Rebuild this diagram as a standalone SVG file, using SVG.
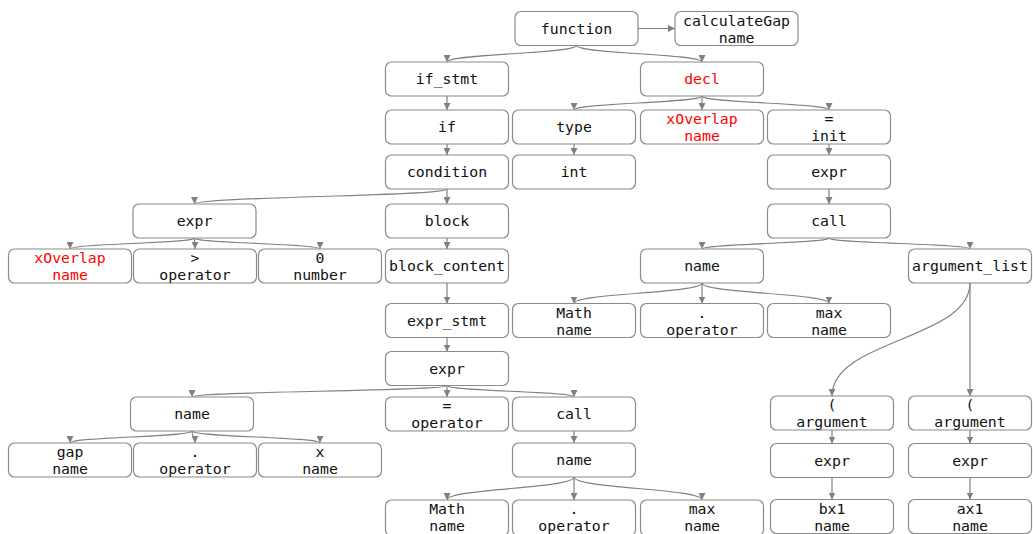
<svg xmlns="http://www.w3.org/2000/svg" width="1033" height="534" viewBox="0 0 1033 534">
  <defs>
    <marker id="arrow" viewBox="0 0 10 10" refX="10" refY="5" markerWidth="7" markerHeight="7" markerUnits="userSpaceOnUse" orient="auto">
      <path d="M0,0 L10,5 L0,10 z" fill="#808080"/>
    </marker>
    <style>
      .node rect { fill: #ffffff; stroke: #8a8a8a; stroke-width: 1.2; }
      .node text { font-family: "DejaVu Sans Mono", "Liberation Mono", monospace; font-size: 14.8px; fill: #111111; text-anchor: middle; }
      .node text.hl { fill: #ff0000; }
      .edges path { fill: none; stroke: #808080; stroke-width: 1.2; marker-end: url(#arrow); }
    </style>
  </defs>

  <rect x="0" y="0" width="1033" height="534" fill="#ffffff"/>

  <!-- connectors: parent bottom centre to child top centre -->
  <g id="edges" class="edges">
    <path d="M638,28.5 L675,28.5"/>
    <path d="M576.5,45.5 C576.5,53.75 447,53.75 447,62"/>
    <path d="M576.5,45.5 C576.5,53.75 702,53.75 702,62"/>
    <path d="M447,96 L447,110"/>
    <path d="M447,144 L447,155"/>
    <path d="M447,189 C447,196.5 194.5,196.5 194.5,204"/>
    <path d="M447,189 L447,204"/>
    <path d="M194.5,238 C194.5,243.5 70,243.5 70,249"/>
    <path d="M194.5,238 C194.5,243.5 195,243.5 195,249"/>
    <path d="M194.5,238 C194.5,243.5 320,243.5 320,249"/>
    <path d="M447,238 L447,249"/>
    <path d="M447,283 L447,303.5"/>
    <path d="M447,337.5 L447,351.5"/>
    <path d="M447,385.5 C447,391.25 192,391.25 192,397"/>
    <path d="M447,385.5 L447,397"/>
    <path d="M447,385.5 C447,391.25 574,391.25 574,397"/>
    <path d="M192,431 C192,437 70,437 70,443"/>
    <path d="M192,431 C192,437 195,437 195,443"/>
    <path d="M192,431 C192,437 320,437 320,443"/>
    <path d="M574,431 L574,443"/>
    <path d="M574,477 C574,488.5 447,488.5 447,500"/>
    <path d="M574,477 L574,500"/>
    <path d="M574,477 C574,488.5 702,488.5 702,500"/>
    <path d="M702,96 C702,103 574,103 574,110"/>
    <path d="M702,96 L702,110"/>
    <path d="M702,96 C702,103 829,103 829,110"/>
    <path d="M574,144 L574,155"/>
    <path d="M829,144 L829,155"/>
    <path d="M829,189 L829,204"/>
    <path d="M829,238 C829,243.5 702,243.5 702,249"/>
    <path d="M829,238 C829,243.5 970,243.5 970,249"/>
    <path d="M702,283 C702,293.25 574,293.25 574,303.5"/>
    <path d="M702,283 L702,303.5"/>
    <path d="M702,283 C702,293.25 829,293.25 829,303.5"/>
    <path d="M970,283 C970,339.5 832,339.5 832,396"/>
    <path d="M970,283 L970,396"/>
    <path d="M832,430 L832,443.5"/>
    <path d="M970,430 L970,443.5"/>
    <path d="M832,477.5 L832,499.5"/>
    <path d="M970,477.5 L970,499.5"/>
  </g>

  <!-- nodes -->
  <g id="n-function" class="node"><rect x="515" y="11.5" width="123" height="34" rx="6"/><text x="576.5" y="33.5">function</text></g>
  <g id="n-calculateGap" class="node"><rect x="675" y="11.5" width="123" height="34" rx="6"/><text x="736.5" y="25.5">calculateGap</text><text x="736.5" y="42.5">name</text></g>

  <g id="n-if-stmt" class="node"><rect x="385.5" y="62" width="123" height="34" rx="6"/><text x="447" y="84">if_stmt</text></g>
  <g id="n-decl" class="node"><rect x="640.5" y="62" width="123" height="34" rx="6"/><text class="hl" x="702" y="84">decl</text></g>

  <g id="n-if" class="node"><rect x="385.5" y="110" width="123" height="34" rx="6"/><text x="447" y="132">if</text></g>
  <g id="n-type" class="node"><rect x="512.5" y="110" width="123" height="34" rx="6"/><text x="574" y="132">type</text></g>
  <g id="n-decl-name" class="node"><rect x="640.5" y="110" width="123" height="34" rx="6"/><text class="hl" x="702" y="124">xOverlap</text><text class="hl" x="702" y="141">name</text></g>
  <g id="n-init" class="node"><rect x="767.5" y="110" width="123" height="34" rx="6"/><text x="829" y="124">=</text><text x="829" y="141">init</text></g>

  <g id="n-condition" class="node"><rect x="385.5" y="155" width="123" height="34" rx="6"/><text x="447" y="177">condition</text></g>
  <g id="n-int" class="node"><rect x="512.5" y="155" width="123" height="34" rx="6"/><text x="574" y="177">int</text></g>
  <g id="n-init-expr" class="node"><rect x="767.5" y="155" width="123" height="34" rx="6"/><text x="829" y="177">expr</text></g>

  <g id="n-cond-expr" class="node"><rect x="133" y="204" width="123" height="34" rx="6"/><text x="194.5" y="226">expr</text></g>
  <g id="n-block" class="node"><rect x="385.5" y="204" width="123" height="34" rx="6"/><text x="447" y="226">block</text></g>
  <g id="n-init-call" class="node"><rect x="767.5" y="204" width="123" height="34" rx="6"/><text x="829" y="226">call</text></g>

  <g id="n-cond-name" class="node"><rect x="8.5" y="249" width="123" height="34" rx="6"/><text class="hl" x="70" y="263">xOverlap</text><text class="hl" x="70" y="280">name</text></g>
  <g id="n-cond-op" class="node"><rect x="133.5" y="249" width="123" height="34" rx="6"/><text x="195" y="263">&gt;</text><text x="195" y="280">operator</text></g>
  <g id="n-cond-num" class="node"><rect x="258.5" y="249" width="123" height="34" rx="6"/><text x="320" y="263">0</text><text x="320" y="280">number</text></g>
  <g id="n-block-content" class="node"><rect x="385.5" y="249" width="123" height="34" rx="6"/><text x="447" y="271">block_content</text></g>
  <g id="n-init-callee" class="node"><rect x="640.5" y="249" width="123" height="34" rx="6"/><text x="702" y="271">name</text></g>
  <g id="n-argument-list" class="node"><rect x="908.5" y="249" width="123" height="34" rx="6"/><text x="970" y="271">argument_list</text></g>

  <g id="n-expr-stmt" class="node"><rect x="385.5" y="303.5" width="123" height="34" rx="6"/><text x="447" y="325.5">expr_stmt</text></g>
  <g id="n-init-math" class="node"><rect x="512.5" y="303.5" width="123" height="34" rx="6"/><text x="574" y="317.5">Math</text><text x="574" y="334.5">name</text></g>
  <g id="n-init-dot" class="node"><rect x="640.5" y="303.5" width="123" height="34" rx="6"/><text x="702" y="317.5">.</text><text x="702" y="334.5">operator</text></g>
  <g id="n-init-max" class="node"><rect x="767.5" y="303.5" width="123" height="34" rx="6"/><text x="829" y="317.5">max</text><text x="829" y="334.5">name</text></g>

  <g id="n-stmt-expr" class="node"><rect x="385.5" y="351.5" width="123" height="34" rx="6"/><text x="447" y="373.5">expr</text></g>

  <g id="n-gap-name" class="node"><rect x="130.5" y="397" width="123" height="34" rx="6"/><text x="192" y="419">name</text></g>
  <g id="n-assign" class="node"><rect x="385.5" y="397" width="123" height="34" rx="6"/><text x="447" y="411">=</text><text x="447" y="428">operator</text></g>
  <g id="n-stmt-call" class="node"><rect x="512.5" y="397" width="123" height="34" rx="6"/><text x="574" y="419">call</text></g>
  <g id="n-arg-1" class="node"><rect x="770.5" y="396" width="123" height="34" rx="6"/><text x="832" y="410">(</text><text x="832" y="427">argument</text></g>
  <g id="n-arg-2" class="node"><rect x="908.5" y="396" width="123" height="34" rx="6"/><text x="970" y="410">(</text><text x="970" y="427">argument</text></g>

  <g id="n-gap" class="node"><rect x="8.5" y="443" width="123" height="34" rx="6"/><text x="70" y="457">gap</text><text x="70" y="474">name</text></g>
  <g id="n-gap-dot" class="node"><rect x="133.5" y="443" width="123" height="34" rx="6"/><text x="195" y="457">.</text><text x="195" y="474">operator</text></g>
  <g id="n-gap-x" class="node"><rect x="258.5" y="443" width="123" height="34" rx="6"/><text x="320" y="457">x</text><text x="320" y="474">name</text></g>
  <g id="n-stmt-callee" class="node"><rect x="512.5" y="443" width="123" height="34" rx="6"/><text x="574" y="465">name</text></g>
  <g id="n-arg-1-expr" class="node"><rect x="770.5" y="443.5" width="123" height="34" rx="6"/><text x="832" y="465.5">expr</text></g>
  <g id="n-arg-2-expr" class="node"><rect x="908.5" y="443.5" width="123" height="34" rx="6"/><text x="970" y="465.5">expr</text></g>

  <g id="n-stmt-math" class="node"><rect x="385.5" y="500" width="123" height="36" rx="6"/><text x="447" y="514">Math</text><text x="447" y="531">name</text></g>
  <g id="n-stmt-dot" class="node"><rect x="512.5" y="500" width="123" height="36" rx="6"/><text x="574" y="514">.</text><text x="574" y="531">operator</text></g>
  <g id="n-stmt-max" class="node"><rect x="640.5" y="500" width="123" height="36" rx="6"/><text x="702" y="514">max</text><text x="702" y="531">name</text></g>
  <g id="n-bx1" class="node"><rect x="770.5" y="499.5" width="123" height="34" rx="6"/><text x="832" y="513.5">bx1</text><text x="832" y="530.5">name</text></g>
  <g id="n-ax1" class="node"><rect x="908.5" y="499.5" width="123" height="34" rx="6"/><text x="970" y="513.5">ax1</text><text x="970" y="530.5">name</text></g>
</svg>
